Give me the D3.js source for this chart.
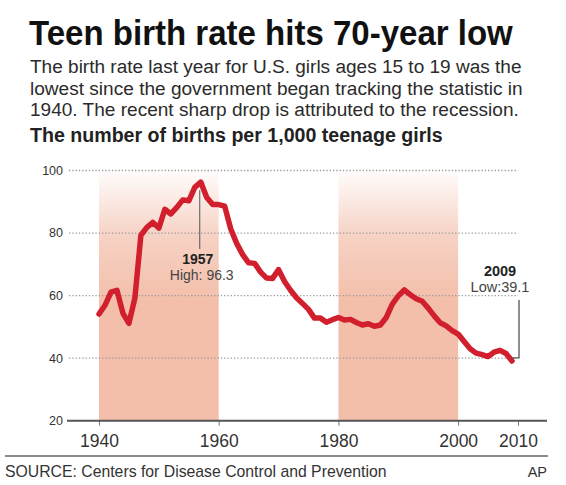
<!DOCTYPE html>
<html>
<head>
<meta charset="utf-8">
<script src="https://cdn.jsdelivr.net/npm/d3@7"></script>
<style>
  body { margin: 0; background: #fff; }
  svg { display: block; font-family: "Liberation Sans", Arial, sans-serif; }
</style>
</head>
<body>
<script>
var width = 566;
var height = 485;

// teen births per 1,000 girls aged 15-19
var years = [1940,1941,1942,1943,1944,1945,1946,1947,1948,1949,
             1950,1951,1952,1953,1954,1955,1956,1957,1958,1959,
             1960,1961,1962,1963,1964,1965,1966,1967,1968,1969,
             1970,1971,1972,1973,1974,1975,1976,1977,1978,1979,
             1980,1981,1982,1983,1984,1985,1986,1987,1988,1989,
             1990,1991,1992,1993,1994,1995,1996,1997,1998,1999,
             2000,2001,2002,2003,2004,2005,2006,2007,2008,2009];
var rates = [54.1,56.9,61.1,61.7,54.3,51.1,59.3,79.3,81.8,83.4,
             81.6,87.6,86.1,88.2,90.6,90.3,94.6,96.3,91.4,89.1,
             89.1,88.6,81.4,76.7,73.1,70.5,70.3,67.5,65.6,65.5,
             68.3,64.5,61.7,59.3,57.5,55.6,52.8,52.8,51.5,52.3,
             53.0,52.2,52.4,51.4,50.6,51.0,50.2,50.6,53.0,57.3,
             59.9,61.8,60.3,59.0,58.2,56.0,53.5,51.3,50.3,48.8,
             47.7,45.3,43.0,41.6,41.1,40.5,41.9,42.5,41.5,39.1];

var xTicks = [1940, 1960, 1980, 2000, 2010];
var yTicks = [20, 40, 60, 80, 100];
// shaded periods
var bandStarts = [1940, 1980];
var bandEnds = [1960, 2000];

var subtitleLines = [
  "The birth rate last year for U.S. girls ages 15 to 19 was the",
  "lowest since the government began tracking the statistic in",
  "1940. The recent sharp drop is attributed to the recession."
];

var svg = d3.select("body").append("svg")
    .attr("width", width)
    .attr("height", height);

var x = d3.scaleLinear()
    .domain([1940, 2010])
    .range([99, 518]);

var y = d3.scaleLinear()
    .domain([20, 100])
    .range([420.7, 170.5]);

// shrink font size until the text spans the wanted width
function fitSize(sel, w, size) {
    var len = sel.node().getComputedTextLength();
    sel.style("font-size", (size * w / len) + "px");
}

// headline: bold sans squeezed sideways to look condensed
var title = svg.append("text")
    .style("font-weight", "bold")
    .style("font-size", "35px")
    .style("fill", "#111")
    .text("Teen birth rate hits 70-year low");
var tw = title.node().getComputedTextLength();
title.attr("transform", "translate(29,45) scale(" + (484 / tw) + ",1)");

svg.selectAll(".sub")
    .data(subtitleLines)
    .enter().append("text")
    .attr("class", "sub")
    .attr("x", 30)
    .attr("y", function(d, i) { return [73, 95, 116][i]; })
    .style("font-size", "18px")
    .style("fill", "#2b2b2b")
    .text(function(d) { return d; })
    .each(function(d, i) { fitSize(d3.select(this), [492, 493, 489][i], 18); });

var chartSub = svg.append("text")
    .attr("x", 30)
    .attr("y", 142)
    .style("font-size", "16px")
    .style("font-weight", "bold")
    .style("fill", "#222")
    .text("The number of births per 1,000 teenage girls");
fitSize(chartSub, 413, 16);

// fading shaded bands
var defs = svg.append("defs");
var grad = defs.append("linearGradient")
    .attr("id", "bandFade")
    .attr("gradientUnits", "userSpaceOnUse")
    .attr("x1", 0).attr("x2", 0)
    .attr("y1", 172).attr("y2", 300);
grad.append("stop").attr("offset", "0%").attr("stop-color", "#f3bfab").attr("stop-opacity", 0.05);
grad.append("stop").attr("offset", "50%").attr("stop-color", "#f3bfab").attr("stop-opacity", 0.7);
grad.append("stop").attr("offset", "100%").attr("stop-color", "#f3bfab").attr("stop-opacity", 1);

svg.selectAll(".band")
    .data(bandStarts)
    .enter().append("rect")
    .attr("class", "band")
    .attr("x", function(d) { return x(d); })
    .attr("width", function(d, i) { return x(bandEnds[i]) - x(d); })
    .attr("y", 172)
    .attr("height", y(20) - 172)
    .style("fill", "url(#bandFade)");

// dotted gridlines
svg.selectAll(".grid")
    .data(yTicks.slice(1))
    .enter().append("line")
    .attr("class", "grid")
    .attr("x1", 69)
    .attr("x2", x(2010))
    .attr("y1", function(d) { return y(d); })
    .attr("y2", function(d) { return y(d); })
    .style("stroke", "#9a9a9a")
    .style("stroke-width", 1.3)
    .style("stroke-dasharray", "1.3,2");

svg.selectAll(".ylab")
    .data(yTicks)
    .enter().append("text")
    .attr("class", "ylab")
    .attr("x", 63)
    .attr("y", function(d) { return y(d); })
    .attr("dy", "0.35em")
    .attr("text-anchor", "end")
    .style("font-size", "12.5px")
    .style("fill", "#333")
    .text(function(d) { return d; });

// x axis
var xAxis = svg.append("g")
    .attr("transform", "translate(0," + y(20) + ")")
    .call(d3.axisBottom(x)
        .tickValues(xTicks)
        .tickFormat(d3.format("d"))
        .tickSize(5)
        .tickSizeOuter(0)
        .tickPadding(9));
xAxis.select(".domain").remove();
xAxis.selectAll(".tick line").style("stroke", "#777");
xAxis.selectAll(".tick text")
    .style("font-family", "'Liberation Sans', Arial, sans-serif")
    .style("font-size", "17.5px")
    .style("fill", "#333");
xAxis.append("line")
    .attr("x1", 67)
    .attr("x2", 547)
    .style("stroke", "#555")
    .style("stroke-width", 2);

// the data line
var line = d3.line()
    .x(function(d, i) { return x(years[i]); })
    .y(function(d) { return y(d); });

svg.append("path")
    .datum(rates)
    .attr("d", line)
    .style("fill", "none")
    .style("stroke", "#d11f2d")
    .style("stroke-width", 5.5)
    .style("stroke-linejoin", "round")
    .style("stroke-linecap", "round");

// high point note
var hiYear = 1957, hiVal = 96.3;
svg.append("line")
    .attr("x1", x(hiYear) - 1)
    .attr("x2", x(hiYear) - 1)
    .attr("y1", y(hiVal) + 8)
    .attr("y2", 249)
    .style("stroke", "#555")
    .style("stroke-width", 1);
svg.append("text")
    .attr("x", x(hiYear) - 3)
    .attr("y", 264)
    .attr("text-anchor", "middle")
    .style("font-size", "14px")
    .style("font-weight", "bold")
    .style("fill", "#222")
    .text(hiYear);
svg.append("text")
    .attr("x", x(hiYear) + 1)
    .attr("y", 280)
    .attr("text-anchor", "middle")
    .style("font-size", "14px")
    .style("fill", "#444")
    .text("High: " + hiVal);

// low point note
var loYear = 2009, loVal = 39.1;
svg.append("text")
    .attr("x", x(loYear) - 12)
    .attr("y", 276)
    .attr("text-anchor", "middle")
    .style("font-size", "14.5px")
    .style("font-weight", "bold")
    .style("fill", "#222")
    .text(loYear);
svg.append("text")
    .attr("x", x(loYear) - 12)
    .attr("y", 292)
    .attr("text-anchor", "middle")
    .style("font-size", "14.5px")
    .style("fill", "#444")
    .text("Low:" + loVal);
svg.append("path")
    .attr("d", "M" + (x(loYear) + 7) + ",300V" + (y(loVal) - 3) + "H" + (x(loYear) - 0.5))
    .style("fill", "none")
    .style("stroke", "#555")
    .style("stroke-width", 1.3);

// footer
svg.append("line")
    .attr("x1", 5)
    .attr("x2", 548)
    .attr("y1", 456)
    .attr("y2", 456)
    .style("stroke", "#666")
    .style("stroke-width", 1.6);
var source = svg.append("text")
    .attr("x", 5)
    .attr("y", 477)
    .style("font-size", "14.5px")
    .style("fill", "#333")
    .text("SOURCE: Centers for Disease Control and Prevention");
fitSize(source, 382, 14.5);
svg.append("text")
    .attr("x", 547)
    .attr("y", 477)
    .attr("text-anchor", "end")
    .style("font-size", "14.5px")
    .style("fill", "#333")
    .text("AP");
</script>
</body>
</html>
